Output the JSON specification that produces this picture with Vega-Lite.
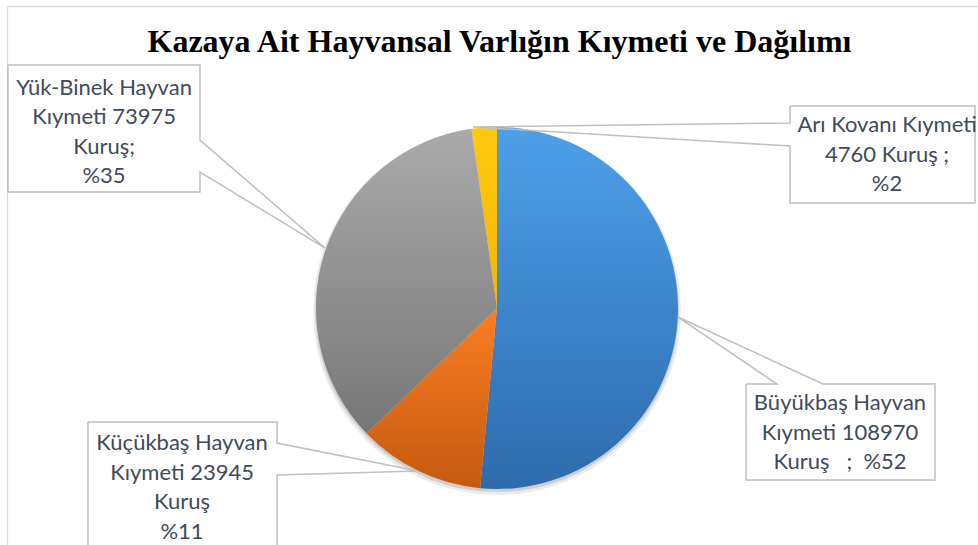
{
  "$schema": "https://vega.github.io/schema/vega-lite/v6.json",
  "width": 971,
  "height": 539,
  "autosize": {"type": "none"},
  "padding": {"left": 7, "top": 6, "right": 0, "bottom": 0},
  "background": "white",
  "title": {
    "text": "Kazaya Ait Hayvansal Varlığın Kıymeti ve Dağılımı",
    "font": "Liberation Serif",
    "fontSize": 32,
    "fontWeight": "bold",
    "color": "#000000",
    "anchor": "middle",
    "frame": "group",
    "baseline": "alphabetic",
    "offset": -78,
    "dx": 7
  },
  "config": {
    "view": {"stroke": null},
    "axis": {"domain": true, "domainColor": "#D6DCE4", "domainWidth": 1.3, "ticks": false, "labels": false, "grid": false}
  },
  "datasets": {
    "dilimler": [
      {"tur": "Büyükbaş Hayvan", "kiymet": 108970, "sira": 1},
      {"tur": "Küçükbaş Hayvan", "kiymet": 23945, "sira": 2},
      {"tur": "Yük-Binek Hayvan", "kiymet": 73975, "sira": 3},
      {"tur": "Arı Kovanı", "kiymet": 4760, "sira": 4}
    ],
    "etiketler": [
      {"tur": "Büyükbaş Hayvan", "metin": "Büyükbaş Hayvan\nKıymeti 108970\nKuruş\u00a0\u00a0\u00a0;\u00a0\u00a0%52", "x": 1.895, "y": -0.5249},
      {"tur": "Küçükbaş Hayvan", "metin": "Küçükbaş Hayvan\nKıymeti 23945\nKuruş\n%11", "x": -1.740, "y": -0.7459},
      {"tur": "Yük-Binek Hayvan", "metin": "Yük-Binek Hayvan\nKıymeti 73975\nKuruş;\n%35", "x": -2.171, "y": 1.2155},
      {"tur": "Arı Kovanı", "metin": "Arı Kovanı Kıymeti\n4760 Kuruş ;\n%2", "x": 2.155, "y": 1.0110}
    ],
    "cagrilar": [
      {"tur": "Yük-Binek Hayvan", "n": 0, "x": -2.702, "y": 1.343},
      {"tur": "Yük-Binek Hayvan", "n": 1, "x": -1.641, "y": 1.343},
      {"tur": "Yük-Binek Hayvan", "n": 2, "x": -1.641, "y": 0.928},
      {"tur": "Yük-Binek Hayvan", "n": 3, "x": -0.950, "y": 0.331},
      {"tur": "Yük-Binek Hayvan", "n": 4, "x": -1.641, "y": 0.751},
      {"tur": "Yük-Binek Hayvan", "n": 5, "x": -1.641, "y": 0.641},
      {"tur": "Yük-Binek Hayvan", "n": 6, "x": -2.702, "y": 0.641},
      {"tur": "Yük-Binek Hayvan", "n": 7, "x": -2.702, "y": 1.343},
      {"tur": "Arı Kovanı", "n": 0, "x": 1.619, "y": 1.116},
      {"tur": "Arı Kovanı", "n": 1, "x": 2.641, "y": 1.116},
      {"tur": "Arı Kovanı", "n": 2, "x": 2.641, "y": 0.580},
      {"tur": "Arı Kovanı", "n": 3, "x": 1.619, "y": 0.580},
      {"tur": "Arı Kovanı", "n": 4, "x": 1.619, "y": 0.895},
      {"tur": "Arı Kovanı", "n": 5, "x": -0.133, "y": 1.000},
      {"tur": "Arı Kovanı", "n": 6, "x": 1.619, "y": 1.022},
      {"tur": "Arı Kovanı", "n": 7, "x": 1.619, "y": 1.116},
      {"tur": "Büyükbaş Hayvan", "n": 0, "x": 1.376, "y": -0.420},
      {"tur": "Büyükbaş Hayvan", "n": 1, "x": 1.547, "y": -0.420},
      {"tur": "Büyükbaş Hayvan", "n": 2, "x": 1.000, "y": -0.050},
      {"tur": "Büyükbaş Hayvan", "n": 3, "x": 1.801, "y": -0.420},
      {"tur": "Büyükbaş Hayvan", "n": 4, "x": 2.420, "y": -0.420},
      {"tur": "Büyükbaş Hayvan", "n": 5, "x": 2.420, "y": -0.950},
      {"tur": "Büyükbaş Hayvan", "n": 6, "x": 1.376, "y": -0.950},
      {"tur": "Büyükbaş Hayvan", "n": 7, "x": 1.376, "y": -0.420},
      {"tur": "Küçükbaş Hayvan", "n": 0, "x": -2.260, "y": -0.630},
      {"tur": "Küçükbaş Hayvan", "n": 1, "x": -1.215, "y": -0.630},
      {"tur": "Küçükbaş Hayvan", "n": 2, "x": -1.215, "y": -0.746},
      {"tur": "Küçükbaş Hayvan", "n": 3, "x": -0.436, "y": -0.901},
      {"tur": "Küçükbaş Hayvan", "n": 4, "x": -1.215, "y": -0.923},
      {"tur": "Küçükbaş Hayvan", "n": 5, "x": -1.215, "y": -1.392},
      {"tur": "Küçükbaş Hayvan", "n": 6, "x": -2.260, "y": -1.392},
      {"tur": "Küçükbaş Hayvan", "n": 7, "x": -2.260, "y": -0.630}
    ]
  },
  "layer": [
    {
      "data": {"name": "dilimler"},
      "transform": [{"aggregate": [{"op": "sum", "field": "kiymet", "as": "kiymet"}]}],
      "mark": {"type": "arc", "outerRadius": 184, "yOffset": 3, "color": "#000000", "opacity": 0.08},
      "encoding": {
        "x": {"datum": 0, "type": "quantitative", "scale": {"domain": [-2.70718, 2.65746], "nice": false, "zero": false}, "axis": {"orient": "top", "title": null}},
        "y": {"datum": 0, "type": "quantitative", "scale": {"domain": [-1.30939, 1.66851], "nice": false, "zero": false}, "axis": {"orient": "left", "title": null}},
        "theta": {"field": "kiymet", "type": "quantitative", "stack": true}
      }
    },
    {
      "data": {"name": "dilimler"},
      "transform": [{"aggregate": [{"op": "sum", "field": "kiymet", "as": "kiymet"}]}],
      "mark": {"type": "arc", "outerRadius": 182, "yOffset": 2, "color": "#000000", "opacity": 0.12},
      "encoding": {
        "x": {"datum": 0, "type": "quantitative", "axis": {"orient": "top", "title": null}},
        "y": {"datum": 0, "type": "quantitative", "axis": {"orient": "left", "title": null}},
        "theta": {"field": "kiymet", "type": "quantitative", "stack": true}
      }
    },
    {
      "data": {"name": "dilimler"},
      "transform": [{"stack": "kiymet", "groupby": [], "sort": [{"field": "sira", "order": "ascending"}], "as": ["bas", "son"]}],
      "encoding": {
        "x": {"datum": 0, "type": "quantitative", "axis": {"orient": "top", "title": null}},
        "y": {"datum": 0, "type": "quantitative", "axis": {"orient": "left", "title": null}},
        "theta": {"field": "bas", "type": "quantitative"},
        "theta2": {"field": "son"}
      },
      "layer": [
        {
          "transform": [{"filter": {"field": "tur", "equal": "Büyükbaş Hayvan"}}],
          "mark": {"type": "arc", "outerRadius": 181, "color": {"gradient": "linear", "x1": 0, "y1": 0, "x2": 0, "y2": 1, "stops": [{"offset": 0, "color": "#4DA0E9"}, {"offset": 1, "color": "#2D6BAC"}]}}
        },
        {
          "transform": [{"filter": {"field": "tur", "equal": "Küçükbaş Hayvan"}}],
          "mark": {"type": "arc", "outerRadius": 181, "color": {"gradient": "linear", "x1": 0, "y1": 0, "x2": 0, "y2": 1, "stops": [{"offset": 0, "color": "#FA7E22"}, {"offset": 1, "color": "#C55A11"}]}}
        },
        {
          "transform": [{"filter": {"field": "tur", "equal": "Yük-Binek Hayvan"}}],
          "mark": {"type": "arc", "outerRadius": 181, "color": {"gradient": "linear", "x1": 0, "y1": 0, "x2": 0, "y2": 1, "stops": [{"offset": 0, "color": "#AAAAAA"}, {"offset": 1, "color": "#777777"}]}}
        },
        {
          "transform": [{"filter": {"field": "tur", "equal": "Arı Kovanı"}}],
          "mark": {"type": "arc", "outerRadius": 181, "color": {"gradient": "linear", "x1": 0, "y1": 0, "x2": 0, "y2": 1, "stops": [{"offset": 0, "color": "#FFC90E"}, {"offset": 1, "color": "#F2B600"}]}}
        }
      ]
    },
    {
      "data": {"name": "cagrilar"},
      "mark": {"type": "line", "color": "#BFBFBF", "strokeWidth": 1.5, "strokeJoin": "miter", "clip": true},
      "encoding": {
        "x": {"field": "x", "type": "quantitative", "axis": {"orient": "top", "title": null}},
        "y": {"field": "y", "type": "quantitative", "axis": {"orient": "left", "title": null}},
        "detail": {"field": "tur", "type": "nominal"},
        "order": {"field": "n", "type": "quantitative"}
      }
    },
    {
      "data": {"name": "etiketler"},
      "mark": {"type": "text", "font": "Lato", "fontSize": 22, "color": "#404B5A", "lineBreak": "\n", "lineHeight": 29.5, "align": "center", "baseline": "middle"},
      "encoding": {
        "x": {"field": "x", "type": "quantitative", "axis": {"orient": "top", "title": null}},
        "y": {"field": "y", "type": "quantitative", "axis": {"orient": "left", "title": null}},
        "text": {"field": "metin", "type": "nominal"}
      }
    }
  ]
}
